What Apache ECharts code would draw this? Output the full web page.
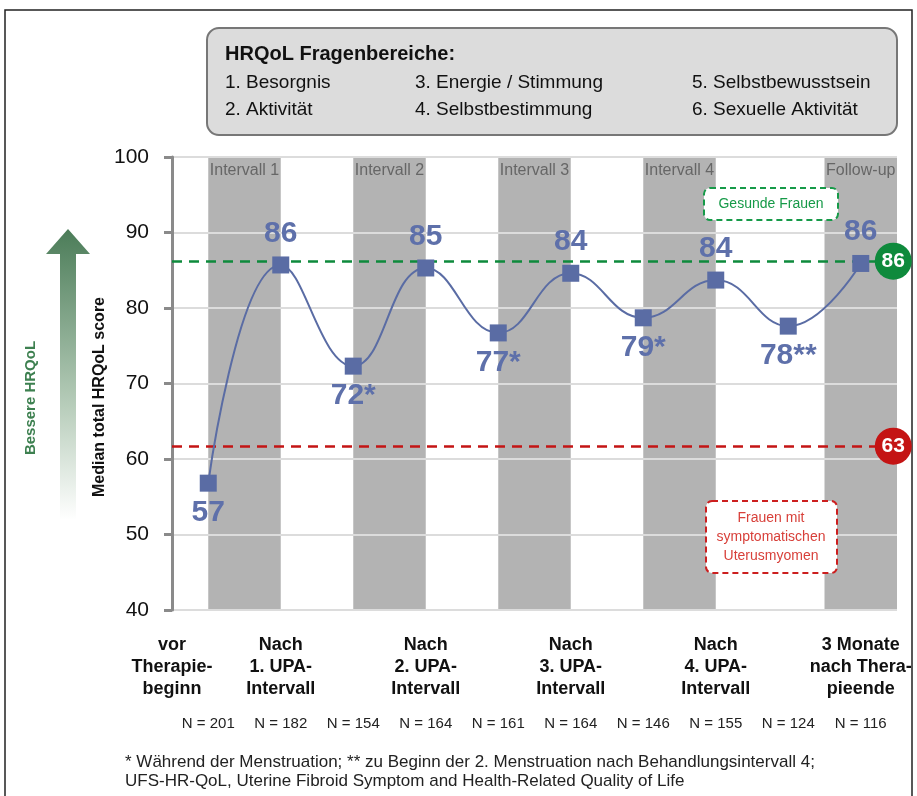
<!DOCTYPE html>
<html lang="de">
<head>
<meta charset="UTF-8">
<title>HRQoL</title>
<script src="https://cdn.jsdelivr.net/npm/echarts@6/dist/echarts.min.js"></script>
<style>
  html, body { margin: 0; padding: 0; background: #fff; }
  #main { width: 917px; height: 796px; }
</style>
</head>
<body>
<div id="main"></div>
<script>
// Messzeitpunkte (Index = Position auf der x-Achse)
var scores = [56.8, 85.7, 72.3, 85.3, 76.7, 84.6, 78.7, 83.7, 77.6, 85.9];
var scoreLabels = ['57', '86', '72*', '85', '77*', '84', '79*', '84', '78**', '86'];
var labelBelow = [true, false, true, false, true, false, true, false, true, false];
var nCounts = ['N = 201', 'N = 182', 'N = 154', 'N = 164', 'N = 161', 'N = 164', 'N = 146', 'N = 155', 'N = 124', 'N = 116'];

// Beschriftung unter der Achse: Position -> Text
var phasePos = [-0.5, 1, 3, 5, 7, 9];
var phaseNames = ['vor\nTherapie-\nbeginn', 'Nach\n1. UPA-\nIntervall', 'Nach\n2. UPA-\nIntervall',
                  'Nach\n3. UPA-\nIntervall', 'Nach\n4. UPA-\nIntervall', '3 Monate\nnach Thera-\npieende'];

// graue Bänder
var bandNames = ['Intervall 1', 'Intervall 2', 'Intervall 3', 'Intervall 4', 'Follow-up'];
var bandFrom = [0, 2, 4, 6, 8.5];
var bandTo = [1, 3, 5, 7, 9.5];

// Referenzlinien
var healthyValue = 86.2, healthyLabel = '86';
var myomaValue = 61.7, myomaLabel = '63';

var yTicks = [40, 50, 60, 70, 80, 90, 100];

var FONT = '"Liberation Sans", Arial, sans-serif';
var NARROW = '"Liberation Sans Narrow", "Liberation Sans", Arial, sans-serif';
var BLUE = '#5a6ca4';

var myChart = echarts.init(document.getElementById('main'));

var bandAreas = bandNames.map(function (n, i) {
    return [{ name: n, xAxis: bandFrom[i] }, { xAxis: bandTo[i] }];
});

var points = scores.map(function (v, i) {
    return {
        value: [i, v],
        label: {
            formatter: scoreLabels[i],
            position: labelBelow[i] ? 'bottom' : 'top',
            distance: labelBelow[i] ? 6 : 8
        }
    };
});

function refLine(val, txt, color) {
    return [
        { coord: [-0.5, val] },
        {
            coord: [9.2, val],
            label: {
                show: true,
                position: 'end',
                distance: 18,
                formatter: txt,
                color: '#fff',
                fontFamily: FONT,
                fontWeight: 'bold',
                fontSize: 21,
                backgroundColor: color,
                width: 37,
                height: 37,
                lineHeight: 37,
                borderRadius: 19,
                align: 'center'
            },
            lineStyle: { color: color }
        }
    ];
}

myChart.setOption({
    animation: false,
    backgroundColor: '#fff',
    grid: { left: 172, right: 20, top: 157, bottom: 186 },
    xAxis: [{
        type: 'value',
        min: -0.5,
        max: 9.5,
        interval: 0.5,
        axisLine: { show: false },
        axisTick: { show: false },
        splitLine: { show: false },
        axisLabel: {
            margin: 24,
            showMinLabel: true,
            color: '#111',
            fontFamily: FONT,
            fontWeight: 'bold',
            fontSize: 18,
            lineHeight: 22,
            formatter: function (v) {
                var k = phasePos.indexOf(v);
                return k < 0 ? '' : phaseNames[k];
            }
        }
    }, {
        type: 'category',
        position: 'bottom',
        data: nCounts,
        axisLine: { show: false },
        axisTick: { show: false },
        axisLabel: { margin: 106, color: '#222', fontFamily: FONT, fontSize: 15, interval: 0 }
    }],
    yAxis: {
        type: 'value',
        min: 40,
        max: 100,
        interval: 10,
        z: 2,
        axisLine: { show: true, onZero: false, lineStyle: { color: '#8a8a8a', width: 3 } },
        axisTick: { show: true, length: 8, lineStyle: { color: '#8a8a8a', width: 3 } },
        splitLine: { lineStyle: { color: '#dcdcdc', width: 2 } },
        axisLabel: {
            margin: 23, color: '#111', fontFamily: FONT, fontSize: 21,
            formatter: function (v) { return yTicks.indexOf(v) >= 0 ? String(v) : ''; }
        }
    },
    series: [{
        // Bänder
        type: 'line',
        z: 1,
        data: [],
        markArea: {
            silent: true,
            itemStyle: { color: '#b3b3b3' },
            label: {
                show: true, position: 'insideTop', distance: 6,
                color: '#666', fontFamily: NARROW, fontSize: 16
            },
            data: bandAreas
        }
    }, {
        // Referenzlinien
        type: 'line',
        z: 3,
        data: [],
        markLine: {
            silent: true,
            symbol: ['none', 'none'],
            lineStyle: { type: [10, 7], width: 2.5 },
            label: { show: false },
            data: [refLine(healthyValue, healthyLabel, '#0e8a3c'), refLine(myomaValue, myomaLabel, '#c41414')]
        }
    }, {
        type: 'line',
        z: 5,
        xAxisIndex: 0,
        smooth: 0.45,
        symbol: 'rect',
        symbolSize: 17,
        itemStyle: { color: BLUE },
        lineStyle: { color: BLUE, width: 2 },
        label: {
            show: true,
            color: '#5e70aa',
            fontFamily: FONT,
            fontWeight: 'bold',
            fontSize: 30
        },
        data: points
    }],
    graphic: [
        // Rahmen
        { type: 'rect', z: 0, shape: { x: 5, y: 10, width: 907, height: 800 },
          style: { fill: 'none', stroke: '#222', lineWidth: 1.5 } },
        // Legendenkasten
        { type: 'rect', z: 100, shape: { x: 207, y: 28, width: 690, height: 107, r: 12 },
          style: { fill: '#dcdcdc', stroke: '#777', lineWidth: 2 } },
        { type: 'text', z: 101, x: 225, y: 54,
          style: { text: 'HRQoL Fragenbereiche:', font: 'bold 20px ' + FONT, fill: '#111', verticalAlign: 'middle' } },
        { type: 'text', z: 101, x: 225, y: 83, style: { text: '1. Besorgnis', font: '19px ' + FONT, fill: '#111', verticalAlign: 'middle' } },
        { type: 'text', z: 101, x: 225, y: 110, style: { text: '2. Aktivität', font: '19px ' + FONT, fill: '#111', verticalAlign: 'middle' } },
        { type: 'text', z: 101, x: 415, y: 83, style: { text: '3. Energie / Stimmung', font: '19px ' + FONT, fill: '#111', verticalAlign: 'middle' } },
        { type: 'text', z: 101, x: 415, y: 110, style: { text: '4. Selbstbestimmung', font: '19px ' + FONT, fill: '#111', verticalAlign: 'middle' } },
        { type: 'text', z: 101, x: 692, y: 83, style: { text: '5. Selbstbewusstsein', font: '19px ' + FONT, fill: '#111', verticalAlign: 'middle' } },
        { type: 'text', z: 101, x: 692, y: 110, style: { text: '6. Sexuelle Aktivität', font: '19px ' + FONT, fill: '#111', verticalAlign: 'middle' } },
        // Pfeil "Bessere HRQoL"
        { type: 'polygon', z: 10,
          shape: { points: [[68, 229], [90, 254], [76, 254], [76, 520], [60, 520], [60, 254], [46, 254]] },
          style: { fill: new echarts.graphic.LinearGradient(0, 0, 0, 1, [
              { offset: 0, color: '#4b7c58' }, { offset: 0.6, color: '#b6ccb9' }, { offset: 1, color: '#ffffff' }]) } },
        { type: 'text', z: 11, x: 31, y: 398, rotation: Math.PI / 2,
          style: { text: 'Bessere HRQoL', font: 'bold 15px ' + NARROW, fill: '#3d8050', align: 'center', verticalAlign: 'middle' } },
        // y-Achsentitel
        { type: 'text', z: 11, x: 100, y: 397, rotation: Math.PI / 2,
          style: { text: 'Median total HRQoL score', font: 'bold 16px ' + FONT, fill: '#111', align: 'center', verticalAlign: 'middle' } },
        // Kästen an den Referenzlinien
        { type: 'rect', z: 100, shape: { x: 704, y: 188, width: 134, height: 32, r: 6 },
          style: { fill: '#fff', stroke: '#169a48', lineWidth: 2, lineDash: [6, 4] } },
        { type: 'text', z: 101, x: 771, y: 204,
          style: { text: 'Gesunde Frauen', font: '14px ' + NARROW, fill: '#169a48', align: 'center', verticalAlign: 'middle' } },
        { type: 'rect', z: 100, shape: { x: 706, y: 501, width: 131, height: 72, r: 6 },
          style: { fill: '#fff', stroke: '#cc1f1f', lineWidth: 2, lineDash: [6, 4] } },
        { type: 'text', z: 101, x: 771, y: 537,
          style: { text: 'Frauen mit\nsymptomatischen\nUterusmyomen', font: '14px ' + NARROW, fill: '#d8403a',
                   align: 'center', verticalAlign: 'middle', lineHeight: 19 } },
        // Fußnote
        { type: 'text', z: 10, x: 125, y: 762,
          style: { text: '* Während der Menstruation; ** zu Beginn der 2. Menstruation nach Behandlungsintervall 4;',
                   font: '17px ' + FONT, fill: '#222', verticalAlign: 'middle' } },
        { type: 'text', z: 10, x: 125, y: 781,
          style: { text: 'UFS-HR-QoL, Uterine Fibroid Symptom and Health-Related Quality of Life',
                   font: '17px ' + FONT, fill: '#222', verticalAlign: 'middle' } }
    ]
});

window.addEventListener('resize', function () {
    myChart.resize();
});
</script>
</body>
</html>
